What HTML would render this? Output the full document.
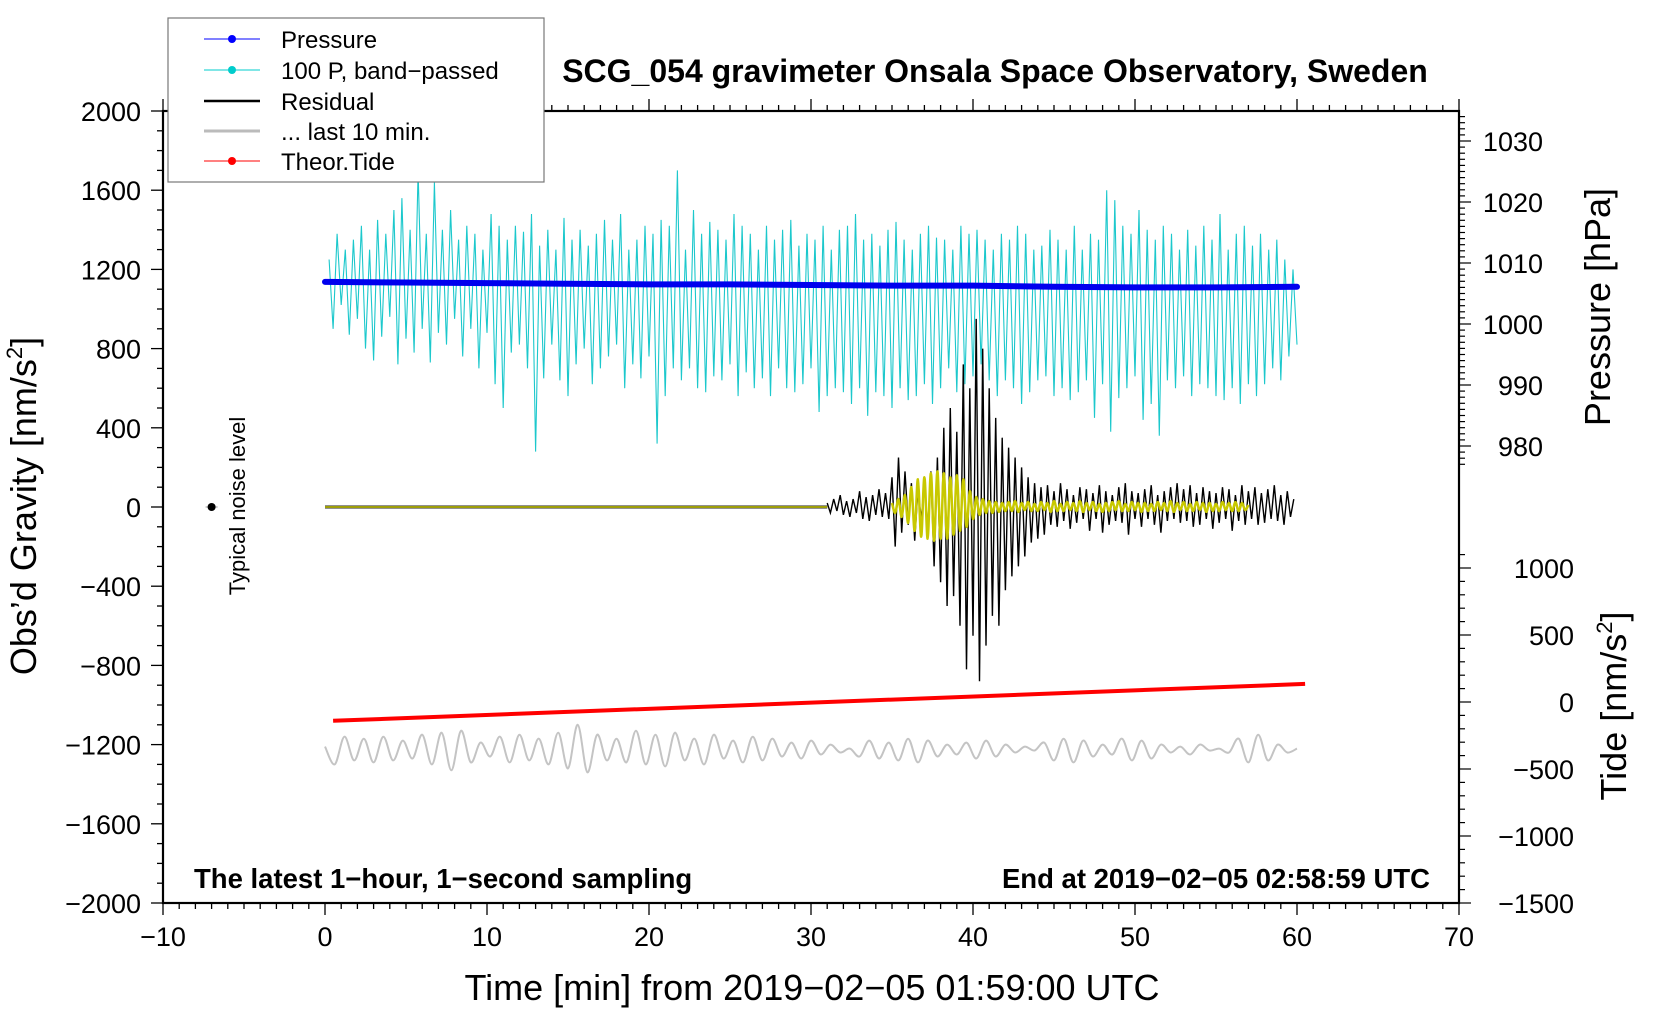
<!DOCTYPE html>
<html><head><meta charset="utf-8"><style>
body{margin:0;background:#fff}
svg{display:block;font-family:"Liberation Sans",sans-serif}
</style></head><body>
<svg id="chart" width="1660" height="1020" viewBox="0 0 1660 1020" xmlns="http://www.w3.org/2000/svg">
<rect width="1660" height="1020" fill="#fff"/>
<g id="plot"></g>
<g id="axes"></g>
<text x="995" y="82" text-anchor="middle" font-size="32" font-weight="bold">SCG_054 gravimeter Onsala Space Observatory, Sweden</text>
<text x="812" y="1000" text-anchor="middle" font-size="36">Time [min] from 2019−02−05 01:59:00 UTC</text>
<text transform="translate(36,506) rotate(-90)" text-anchor="middle" font-size="36">Obs’d Gravity [nm/s<tspan font-size="22" dy="-14">2</tspan><tspan dy="14">]</tspan></text>
<text transform="translate(1610,307) rotate(-90)" text-anchor="middle" font-size="36">Pressure [hPa]</text>
<text transform="translate(1626,706) rotate(-90)" text-anchor="middle" font-size="36">Tide [nm/s<tspan font-size="22" dy="-14">2</tspan><tspan dy="14">]</tspan></text>
<text x="194" y="888" font-size="27.5" font-weight="bold">The latest 1−hour, 1−second sampling</text>
<text x="1430" y="888" text-anchor="end" font-size="27.5" font-weight="bold">End at 2019−02−05 02:58:59 UTC</text>
<text transform="translate(245,506) rotate(-90)" text-anchor="middle" font-size="22">Typical noise level</text>
<g>
<rect x="168" y="18" width="376" height="164" fill="#fff" stroke="#777" stroke-width="1.2"/>
<line x1="204" y1="39" x2="260" y2="39" stroke="#00f" stroke-width="1"/><circle cx="232" cy="39" r="4" fill="#00f"/>
<text x="281" y="48" font-size="24">Pressure</text>
<line x1="204" y1="70" x2="260" y2="70" stroke="#0cc" stroke-width="1"/><circle cx="232" cy="70" r="4" fill="#0cc"/>
<text x="281" y="79" font-size="24">100 P, band−passed</text>
<line x1="204" y1="101" x2="260" y2="101" stroke="#000" stroke-width="2.5"/>
<text x="281" y="110" font-size="24">Residual</text>
<line x1="204" y1="131" x2="260" y2="131" stroke="#bbb" stroke-width="3"/>
<text x="281" y="140" font-size="24">... last 10 min.</text>
<line x1="204" y1="161" x2="260" y2="161" stroke="#f00" stroke-width="1"/><circle cx="232" cy="161" r="4" fill="#f00"/>
<text x="281" y="170" font-size="24">Theor.Tide</text>
</g>
</svg>
<script>
const xTicks=[-10,0,10,20,30,40,50,60,70];
const gTicks=[2000,1600,1200,800,400,0,-400,-800,-1200,-1600,-2000];
const pTicks=[1030,1020,1010,1000,990,980];
const tTicks=[1000,500,0,-500,-1000,-1500];
const pressureT=[0,5,10,15,20,25,30,35,40,45,50,55,60];
const pressureV=[1006.9,1006.8,1006.7,1006.6,1006.5,1006.5,1006.4,1006.3,1006.3,1006.1,1006.0,1006.0,1006.1];
const cyanStart=0.25, cyanStep=0.25;
const cyanV=[1250,900,1380,1020,1300,870,1350,950,1420,800,1300,740,1450,860,1380,960,
1500,720,1560,850,1400,780,1700,900,1380,730,1640,880,1400,820,1500,950,
1350,760,1420,900,1380,700,1300,880,1480,620,1420,500,1350,780,1420,820,
1390,700,1480,280,1320,650,1400,820,1300,640,1460,560,1350,720,1400,800,
1320,620,1380,700,1450,760,1350,820,1480,600,1300,720,1350,650,1420,760,
1380,320,1450,560,1420,700,1700,640,1300,700,1500,600,1380,580,1440,660,
1400,640,1350,720,1480,560,1420,680,1380,600,1300,650,1420,560,1350,700,
1400,600,1450,580,1320,620,1380,700,1350,480,1420,560,1300,600,1400,580,
1420,520,1480,600,1350,460,1380,580,1320,560,1400,500,1440,600,1350,540,
1300,560,1380,620,1420,520,1360,600,1350,700,1300,580,1420,620,1380,660,
1400,720,1350,640,1300,560,1380,640,1350,600,1420,520,1380,580,1300,640,
1320,660,1400,560,1350,600,1300,540,1420,580,1300,640,1380,450,1350,620,
1600,380,1550,550,1420,600,1380,660,1500,440,1400,520,1350,360,1420,640,
1380,600,1300,660,1400,560,1320,620,1420,600,1350,560,1480,540,1300,600,
1380,520,1420,620,1320,560,1380,620,1300,700,1350,640,1250,760,1200,820];
const quietT=[0,31];
const quietV=[0,0];
const resStart=31, resStep=0.2;
const residualV=[20,-30,40,-20,60,-40,30,-50,40,-30,80,-60,50,-70,60,-40,90,-50,70,-60,
150,-200,250,-130,180,-90,120,-170,90,-60,110,-120,180,-300,250,-380,400,-500,500,-450,
380,-600,720,-820,600,-650,950,-880,800,-700,600,-550,450,-600,350,-420,300,-350,250,-300,
200,-250,150,-180,120,-160,100,-140,110,-90,80,-100,120,-70,90,-110,60,-80,100,-60,
90,-120,70,-60,110,-130,80,-90,60,-70,100,-80,120,-140,80,-60,70,-100,90,-60,
110,-90,60,-130,80,-70,100,-60,120,-80,90,-70,110,-100,70,-90,100,-60,80,-110,
70,-80,100,-60,90,-120,60,-70,110,-90,80,-60,100,-90,70,-80,90,-60,110,-70,60,-90,80,-50,40];
const yelStart=35, yelStep=0.2;
const yellowV=[20,-30,40,-50,60,-80,100,-120,140,-150,150,-160,170,-170,180,-160,170,-160,150,-140,
160,-120,140,-100,80,-60,50,-40,40,-30,30,-30,25,-25,20,-20,25,-20,30,-25,
20,-15,25,-20,15,-20,25,-15,20,-25,30,-20,15,-20,25,-15,20,-20,30,-25,
20,-15,25,-20,15,-25,20,-20,25,-15,30,-20,15,-20,25,-15,20,-25,20,-20,
15,-20,25,-15,20,-20,30,-25,20,-15,25,-20,15,-20,25,-15,20,-25,20,-20,
15,-20,25,-15,20,-20,25,-20,20,-15,10];
const grayStart=0, grayStep=0.6;
const grayV=[-1210,-1300,-1160,-1280,-1170,-1290,-1160,-1280,-1180,-1270,
-1150,-1300,-1140,-1330,-1130,-1290,-1190,-1260,-1160,-1290,
-1150,-1280,-1170,-1300,-1140,-1320,-1100,-1340,-1150,-1280,
-1170,-1290,-1130,-1300,-1150,-1310,-1140,-1280,-1170,-1300,
-1150,-1270,-1180,-1290,-1160,-1280,-1170,-1260,-1190,-1270,
-1180,-1250,-1200,-1240,-1220,-1260,-1180,-1270,-1190,-1280,
-1170,-1290,-1180,-1260,-1200,-1250,-1190,-1270,-1180,-1260,
-1200,-1240,-1210,-1230,-1190,-1280,-1170,-1290,-1180,-1260,
-1200,-1250,-1170,-1280,-1180,-1270,-1200,-1240,-1210,-1250,
-1200,-1230,-1220,-1240,-1170,-1290,-1150,-1280,-1200,-1240,-1220];
const tideT=[0.5,60.5];
const tideV=[-140,135];
const noiseT=[-7], noiseV=[0];

const L=163,R=1459,T=111,B=903;
const X=t=>L+(t+10)*(R-L)/80;
const Y=g=>T+(2000-g)*(B-T)/4000;
const YP=p=>324-(p-1000)*6.1;
const YT=v=>702-v*67/500;
const NS='http://www.w3.org/2000/svg';
const plot=document.getElementById('plot'), axes=document.getElementById('axes');
function mk(tag,attrs,parent){const e=document.createElementNS(NS,tag);for(const k in attrs)e.setAttribute(k,attrs[k]);parent.appendChild(e);return e;}
function poly(pts){return pts.map(p=>p[0].toFixed(1)+','+p[1].toFixed(1)).join(' ');}
function smooth(pts){let d='M'+pts[0][0]+','+pts[0][1];for(let i=0;i<pts.length-1;i++){const p0=pts[Math.max(0,i-1)],p1=pts[i],p2=pts[i+1],p3=pts[Math.min(pts.length-1,i+2)];d+=' C'+(p1[0]+(p2[0]-p0[0])/6).toFixed(1)+','+(p1[1]+(p2[1]-p0[1])/6).toFixed(1)+' '+(p2[0]-(p3[0]-p1[0])/6).toFixed(1)+','+(p2[1]-(p3[1]-p1[1])/6).toFixed(1)+' '+p2[0].toFixed(1)+','+p2[1].toFixed(1);}return d;}

let cy=mk('polyline',{points:poly(cyanV.map((v,i)=>[X(cyanStart+i*cyanStep),Y(v)])),fill:'none',stroke:'#1cc8cc','stroke-width':1.1},plot);


let pl=mk('polyline',{points:poly(pressureT.map((t,i)=>[X(t),YP(pressureV[i])])),fill:'none',stroke:'#0000ee','stroke-width':6,'stroke-linecap':'round'},plot);


let gl=mk('path',{d:smooth(grayV.map((v,i)=>[X(grayStart+i*grayStep),Y(v)])),fill:'none',stroke:'#c4c4c4','stroke-width':2},plot);


let ql=mk('polyline',{points:poly(quietT.map((t,i)=>[X(t),Y(quietV[i])])),fill:'none',stroke:'#222','stroke-width':3},plot);


let rl=mk('polyline',{points:poly(residualV.map((v,i)=>[X(resStart+i*resStep),Y(v)])),fill:'none',stroke:'#000','stroke-width':1.4},plot);


let yq=mk('polyline',{points:poly(quietT.map((t,i)=>[X(t),Y(quietV[i])])),fill:'none',stroke:'#c8c800','stroke-width':1.5},plot);


let yl=mk('path',{d:smooth(yellowV.map((v,i)=>[X(yelStart+i*yelStep),Y(v)])),fill:'none',stroke:'#c8c800','stroke-width':2.5},plot);


let tl=mk('polyline',{points:poly(tideT.map((t,i)=>[X(t),YT(tideV[i])])),fill:'none',stroke:'#f00','stroke-width':4},plot);


noiseT.forEach((t,i)=>{
 mk('line',{x1:X(t)-6,y1:Y(noiseV[i]),x2:X(t)+6,y2:Y(noiseV[i]),stroke:'#999','stroke-width':1},plot);
 let c=mk('circle',{cx:X(t),cy:Y(noiseV[i]),r:4,fill:'#000'},plot);
 
 
});

let fr=mk('rect',{x:L,y:T,width:R-L,height:B-T,fill:'none',stroke:'#000','stroke-width':2.2},axes);


for(let t=-10;t<=70;t++){const maj=t%10===0;const x=X(t);
 mk('line',{x1:x,y1:B,x2:x,y2:B+(maj?12:6),stroke:'#000','stroke-width':1.3},axes);
 mk('line',{x1:x,y1:T,x2:x,y2:T-(maj?12:6),stroke:'#000','stroke-width':1.3},axes);}
xTicks.forEach(t=>{let e=mk('text',{x:X(t),y:946,'text-anchor':'middle','font-size':27},axes);e.textContent=(t<0?'−'+(-t):t);
 
 });
for(let g=-2000;g<=2000;g+=100){const maj=g%400===0;
 mk('line',{x1:L,y1:Y(g),x2:L-(maj?12:6),y2:Y(g),stroke:'#000','stroke-width':1.3},axes);}
gTicks.forEach(g=>{let e=mk('text',{x:141,y:Y(g)+10,'text-anchor':'end','font-size':27},axes);e.textContent=(g<0?'−'+(-g):g);
 
 });
for(let p=975;p<=1034;p++){const y=YP(p);if(y<T||y>470)continue;const maj=p%10===0;
 mk('line',{x1:R,y1:y,x2:R+(maj?12:6),y2:y,stroke:'#000','stroke-width':1.2},axes);}
pTicks.forEach(p=>{let e=mk('text',{x:1543,y:YP(p)+10,'text-anchor':'end','font-size':27},axes);e.textContent=p;
 
 });
for(let v=-1500;v<=1100;v+=100){const y=YT(v);if(y<540||y>B)continue;const maj=v%500===0;
 mk('line',{x1:R,y1:y,x2:R+(maj?12:6),y2:y,stroke:'#000','stroke-width':1.2},axes);}
tTicks.forEach(v=>{let e=mk('text',{x:1574,y:YT(v)+10,'text-anchor':'end','font-size':27},axes);e.textContent=(v<0?'−'+(-v):v);
 
 });
</script>
</body></html>
